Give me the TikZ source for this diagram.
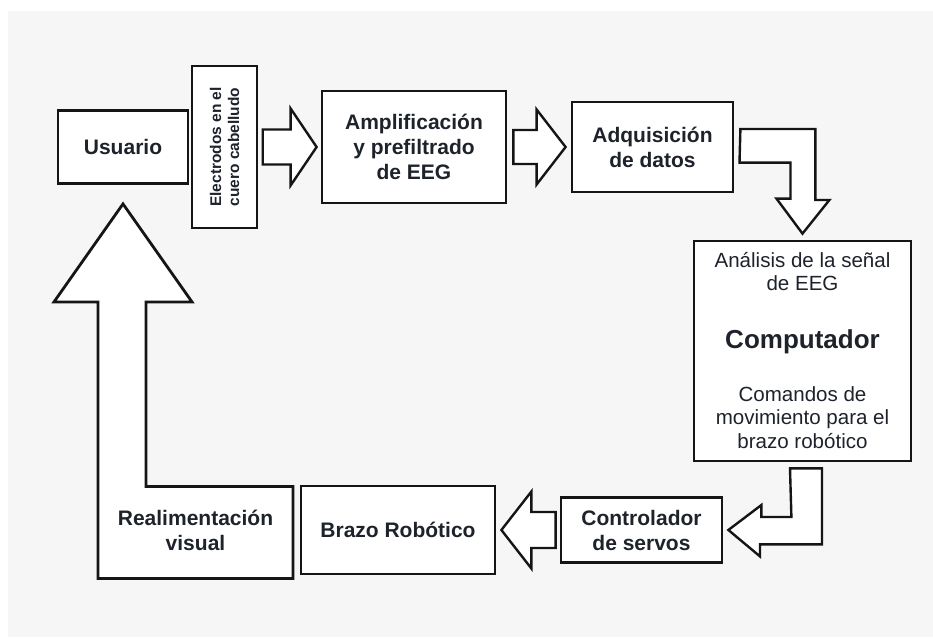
\documentclass[tikz,border=0pt]{standalone}
\usepackage{fontspec}
\setmainfont{Liberation Sans}
\usetikzlibrary{calc}
\definecolor{bgc}{HTML}{F6F6F6}
\definecolor{ink}{HTML}{151515}
\definecolor{txt}{HTML}{1E232B}
\begin{document}
\begin{tikzpicture}[x=0.75pt,y=-0.75pt,
  bx/.style 2 args={minimum width=#1*0.75pt, minimum height=#2*0.75pt},
  box/.style={draw=ink, line width=2.1pt, fill=white, inner sep=0pt,
    text=txt, align=center, font=\fontsize{15.75}{18.75}\selectfont\bfseries},
  thinbox/.style={draw=ink, line width=1.1pt, fill=white, inner sep=0pt},
  plaintext/.style={text=txt, align=center, inner sep=0pt,
    font=\fontsize{15.4}{17.6}\selectfont},
  boldtext/.style={text=txt, align=center, inner sep=0pt,
    font=\fontsize{15.75}{18.75}\selectfont\bfseries},
  barrow/.style={draw=ink, line width=1.8pt, fill=white, line join=miter}]
\useasboundingbox (0,0) rectangle (933,637);
\fill[bgc] (8,11) rectangle (933,637);

% blocks
\node[box, bx={130}{73}] (usuario) at (123,147) {Usuario};
\node[thinbox, bx={65}{162}] (elec) at (224.5,147) {};
\node[rotate=90, text=txt, align=center, inner sep=0pt,
  font=\fontsize{11.6}{13.5}\selectfont\bfseries] (electxt) at (elec.center)
  {Electrodos en el\\cuero cabelludo};
\node[box, bx={184}{112}] (ampl) at (414,147) {Amplificación\\y prefiltrado\\de EEG};
\node[box, bx={161}{90}] (adq) at (652.5,147) {Adquisición\\de datos};
\node[box, bx={217}{220}] (comp) at (802.5,351) {};
\node[plaintext] (compin) at ($(comp.north)+(0,32)$) {Análisis de la señal\\de EEG};
\node[text=txt, inner sep=0pt, font=\fontsize{19.5}{22}\selectfont\bfseries]
  (compname) at ($(comp.north)+(0,102)$) {Computador};
\node[plaintext] (compout) at ($(comp.north)+(0,178)$) {Comandos de\\movimiento para el\\brazo robótico};
\node[box, bx={161}{65}] (ctrl) at (641.5,530) {Controlador\\de servos};
\node[box, bx={194}{88}] (brazo) at (398,530) {Brazo Robótico};

% electrodes -> amplification
\coordinate (a1s) at ($(elec.east)+(5,0)$);
\coordinate (a1t) at ($(ampl.west)+(-4,0)$);
\draw[barrow] ($(a1s)+(0,-17.5)$) -- ($(a1t)+(-26,-17.5)$) -- ($(a1t)+(-26,-38.5)$)
  -- (a1t) -- ($(a1t)+(-26,38.5)$) -- ($(a1t)+(-26,17.5)$) -- ($(a1s)+(0,17.5)$) -- cycle;

% amplification -> acquisition
\coordinate (a2s) at ($(ampl.east)+(6,0)$);
\coordinate (a2t) at ($(adq.west)+(-5,0)$);
\draw[barrow] ($(a2s)+(0,-17)$) -- ($(a2t)+(-29,-17)$) -- ($(a2t)+(-29,-37.5)$)
  -- (a2t) -- ($(a2t)+(-29,37.5)$) -- ($(a2t)+(-29,17)$) -- ($(a2s)+(0,17)$) -- cycle;

% acquisition -> computer (bent)
\coordinate (b1s) at ($(adq.east)+(6,0)$);
\coordinate (b1t) at ($(comp.north)+(0,-6)$);
\draw[barrow] ($(b1s)+(0,-18)$) -- ++(75,0) -- ++(0,71) -- ++(14,0) -- (b1t)
  -- ++(-26,-35) -- ++(14,0) -- ++(0,-36) -- ++(-51,0) -- cycle;

% computer -> servo controller (bent)
\coordinate (b2s) at ($(comp.south)+(3.5,6)$);
\coordinate (b2t) at ($(ctrl.east)+(5,0)$);
\draw[barrow] ($(b2s)+(-16,0)$) -- ++(32,0) -- ++(0,76) -- ++(-62,0) -- ++(0,12)
  -- (b2t) -- ++(33,-25) -- ++(0,12) -- ++(30,0) -- cycle;

% servo controller -> robotic arm
\coordinate (a3s) at ($(ctrl.west)+(-4,0)$);
\coordinate (a3t) at ($(brazo.east)+(5,0)$);
\draw[barrow] ($(a3s)+(0,-18)$) -- ($(a3t)+(30,-18)$) -- ($(a3t)+(30,-38.5)$)
  -- (a3t) -- ($(a3t)+(30,38.5)$) -- ($(a3t)+(30,18)$) -- ($(a3s)+(0,18)$) -- cycle;

% visual feedback block with its arrow up to the user
\coordinate (fbt) at ($(usuario.south)+(0,19)$);
\draw[barrow, line width=2.1pt] (fbt) -- ++(69,98) -- ++(-46,0) -- ++(0,184.5) -- ++(147,0)
  -- ++(0,92) -- ++(-195,0) -- ++(0,-276.5) -- ++(-44,0) -- cycle;
\node[boldtext] (realim) at (195.5,530) {Realimentación\\visual};
\end{tikzpicture}
\end{document}
